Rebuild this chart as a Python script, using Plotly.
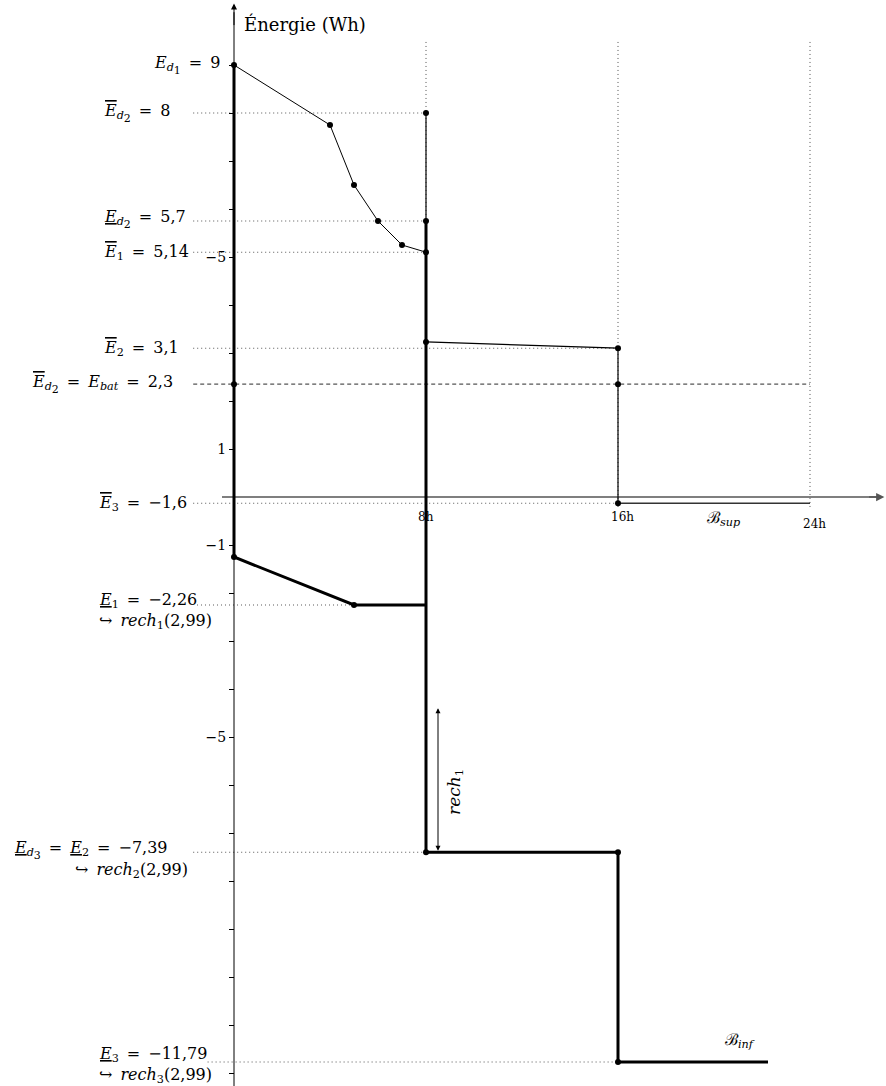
import plotly.graph_objects as go

# ---- data (hours, Wh) ----
curve_x = [0, 4, 5, 6, 7, 8]
curve_y = [9, 7.75, 6.5, 5.75, 5.25, 5.1]

upper_x = [8, 8]
upper_y = [8, 5.75]

mid_x = [8, 16, 16]
mid_y = [3.23, 3.1, -0.13]

bsup_x = [16, 24]
bsup_y = [-0.13, -0.13]

thick_a_x = [0, 0, 5, 8]
thick_a_y = [9, -1.25, -2.25, -2.25]

thick_b_x = [8, 8, 16, 16, 22.25]
thick_b_y = [5.75, -7.4, -7.4, -11.77, -11.77]

pts_x = [0, 4, 5, 6, 7, 8, 8, 8, 8, 16, 16, 16, 0, 0, 5, 8, 16, 16]
pts_y = [9, 7.75, 6.5, 5.75, 5.25, 5.1, 8, 5.75, 3.23, 3.1, 2.35, -0.13,
         2.35, -1.25, -2.25, -7.4, -7.4, -11.77]

level_vals = [8, 5.75, 5.1, 3.1, -0.13, -2.25, -7.4, -11.77]
level_start = [-1.7, -1.7, -1.7, -1.7, -1.7, -1.54, -1.7, -1.1]
level_end = [8, 8, 8, 16, 16, 5, 8, 16]

bat_val = 2.35
hour_marks = [8, 16, 24]
hour_labels = ["8h", "16h", "24h"]

ytick_vals = [v for v in range(-12, 10) if v != 0]
ytick_text = {5: "\u22125", 1: "1", -1: "\u22121", -5: "\u22125"}

recharge_bottom = -7.4
recharge_top = -4.4

OL = '<span style="text-decoration:overline"><i>E</i></span>'
UL = '<span style="text-decoration:underline"><i>E</i></span>'
EQ = "\u2002=\u2002"
HOOK = "\u21aa\u2002"


def dsub(n):
    return '<sub><i>d</i><sub><span style="font-size:140%%">%s</span></sub></sub>' % n


# ---- figure ----
W, H = 886, 1086
X0PX, Y0PX, SX, SY = 234, 497, 24, 48
xr = [-X0PX / SX, (W - X0PX) / SX]
yr = [(Y0PX - H) / SY, Y0PX / SY]

fig = go.Figure()
black = "black"
dotc = "#555"

# dotted vertical hour lines
for h in hour_marks:
    fig.add_trace(go.Scatter(x=[h, h], y=[9.48, -0.27], mode="lines",
                             line=dict(color=dotc, width=1, dash="1px,3px"),
                             hoverinfo="skip"))
# dotted level lines
for v, s, e in zip(level_vals, level_start, level_end):
    fig.add_trace(go.Scatter(x=[s, e], y=[v, v], mode="lines",
                             line=dict(color=dotc, width=1.1, dash="1px,3px"),
                             hoverinfo="skip"))
# dashed battery line
fig.add_trace(go.Scatter(x=[-1.7, 24], y=[bat_val, bat_val], mode="lines",
                         line=dict(color="#555", width=1.2, dash="4px,3px"),
                         hoverinfo="skip"))
# axes
fig.add_trace(go.Scatter(x=[-0.5, 27.0], y=[0, 0], mode="lines",
                         line=dict(color="#555", width=1.5), hoverinfo="skip"))
fig.add_trace(go.Scatter(x=[0, 0], y=[yr[0], 10.1], mode="lines",
                         line=dict(color=black, width=1), hoverinfo="skip"))

# thin lines
for xs, ys, w in [(curve_x, curve_y, 1), (upper_x, upper_y, 1.2),
                  (mid_x, mid_y, 1.2), (bsup_x, bsup_y, 1.6)]:
    fig.add_trace(go.Scatter(x=xs, y=ys, mode="lines",
                             line=dict(color=black if w < 1.5 else "#333", width=w),
                             hoverinfo="skip"))
# thick lines
for xs, ys in [(thick_a_x, thick_a_y), (thick_b_x, thick_b_y)]:
    fig.add_trace(go.Scatter(x=xs, y=ys, mode="lines",
                             line=dict(color=black, width=3), hoverinfo="skip"))
# points
fig.add_trace(go.Scatter(x=pts_x, y=pts_y, mode="markers",
                         marker=dict(color=black, size=6), hoverinfo="skip"))

ann = []
FONT = "DejaVu Serif"


def label(x, y, text, xanchor="left", size=16, xshift=0, yshift=0, angle=0):
    ann.append(dict(x=x, y=y, xref="x", yref="y", text=text, showarrow=False,
                    xanchor=xanchor, yanchor="middle", xshift=xshift, yshift=yshift,
                    textangle=angle, font=dict(family=FONT, size=size, color=black)))


# arrows
ann.append(dict(x=0, y=10.28, ax=0, ay=9.8, xref="x", yref="y", axref="x", ayref="y",
                text="", showarrow=True, arrowhead=2, arrowsize=1.2, arrowwidth=1,
                arrowcolor=black))
ann.append(dict(x=27.1, y=0, ax=26.4, ay=0, xref="x", yref="y", axref="x", ayref="y",
                text="", showarrow=True, arrowhead=2, arrowsize=1.1, arrowwidth=1.5,
                arrowcolor="#555"))
ann.append(dict(x=8.5, y=recharge_top, ax=8.5, ay=recharge_bottom, xref="x", yref="y",
                axref="x", ayref="y", text="", showarrow=True, arrowhead=2,
                arrowside="end+start", arrowsize=1, arrowwidth=1, arrowcolor=black))

label(0.33, 9.85, "\u00c9nergie (Wh)", size=18)
label(-3.42, 9, "<i>E</i>" + dsub(1) + EQ + "9")
label(-5.5, 8, OL + dsub(2) + EQ + "8")
label(-5.5, 5.75, UL + dsub(2) + EQ + "5,7", yshift=2)
label(-5.5, 5.1, OL + "<sub>1</sub>" + EQ + "5,14")
label(-5.5, 3.1, OL + "<sub>2</sub>" + EQ + "3,1")
label(-8.5, bat_val, OL + dsub(2) + EQ + "<i>E</i><sub><i>bat</i></sub>" + EQ + "2,3")
label(-5.71, -0.13, OL + "<sub>3</sub>" + EQ + "\u22121,6")
label(-5.71, -2.25, UL + "<sub>1</sub>" + EQ + "\u22122,26", yshift=5)
label(-5.71, -2.25, HOOK + "<i>rech</i><sub>1</sub>(2,99)", yshift=-16, size=16)
label(-9.25, -7.4, UL + dsub(3) + EQ + UL + "<sub>2</sub>" + EQ + "\u22127,39", yshift=2)
label(-6.7, -7.4, HOOK + "<i>rech</i><sub>2</sub>(2,99)", yshift=-18, size=16)
label(-5.71, -11.77, UL + "<sub>3</sub>" + EQ + "\u221211,79", yshift=7)
label(-5.71, -11.77, HOOK + "<i>rech</i><sub>3</sub>(2,99)", yshift=-14, size=16)

for h, t, dy in zip(hour_marks, hour_labels, [-0.42, -0.42, -0.56]):
    label(h + (0 if h == 8 else 0.2), dy, t, xanchor="center", size=12)

label(20.4, -0.45, "\u212c<sub><i>sup</i></sub>", xanchor="center", size=16)
label(21.1, -11.33, "\u212c<sub><i>inf</i></sub>", xanchor="center", size=16)
label(9.2, -6.15, "<i>rech</i><sub>1</sub>", xanchor="center", size=17, angle=-90)

fig.update_layout(
    width=W, height=H, margin=dict(l=0, r=0, t=0, b=0),
    paper_bgcolor="white", plot_bgcolor="white", showlegend=False,
    annotations=ann,
    xaxis=dict(range=xr, visible=False, fixedrange=True),
    yaxis=dict(range=yr, anchor="free", position=X0PX / W, showgrid=False,
               zeroline=False, showline=False, ticks="outside", ticklen=5,
               tickcolor=black, tickwidth=1,
               tickvals=ytick_vals,
               ticktext=[ytick_text.get(v, "") for v in ytick_vals],
               tickfont=dict(family=FONT, size=14, color=black), fixedrange=True),
)

fig.write_html("out.html", config={"displayModeBar": False},
               post_script="document.body.style.margin='0px';document.body.style.overflow='hidden';")
